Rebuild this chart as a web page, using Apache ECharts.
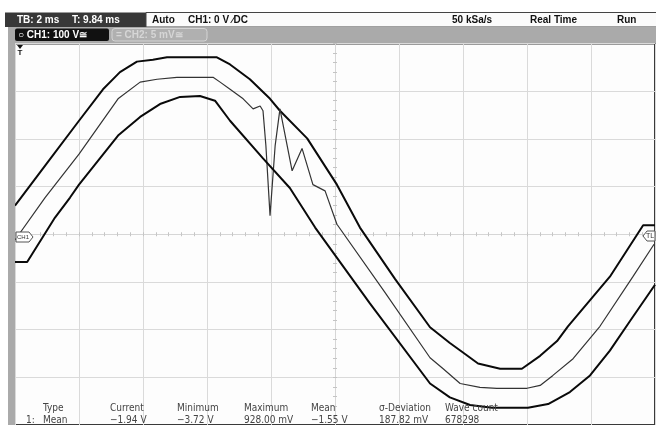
<!DOCTYPE html>
<html><head><meta charset="utf-8">
<script src="https://cdn.jsdelivr.net/npm/echarts@6/dist/echarts.min.js"></script>
<style>html,body{margin:0;padding:0;background:#fff;overflow:hidden}#c{width:656px;height:425px}</style>
</head><body><div id="c"></div>
<script>
// time in ms relative to screen centre, voltage in V (100 V/div)
const upperEnvelope = [[-10,60],[-9,149],[-8.0,238],[-7.25,304],[-6.72,340],[-6.19,362],[-5.69,366],[-5.25,371],[-3.69,371],[-3.28,356],[-2.66,325],[-2.03,284],[-1.72,259],[-0.87,201],[0.06,104],[0.78,14],[1.88,-94],[2.97,-195],[3.59,-228],[4.0,-248],[4.47,-271],[5.16,-282],[5.84,-282],[6.41,-255],[6.94,-224],[7.28,-193],[8.59,-89],[9.63,19],[10,19]];
const meanTrace = [[-10,-12],[-9.06,77],[-8.0,168],[-6.78,284],[-6.09,319],[-5.56,325],[-4.94,329],[-3.81,329],[-3.59,319],[-3.28,304],[-2.87,284],[-2.56,263],[-2.34,269],[-2.25,259],[-2.16,186],[-2.03,39],[-1.87,186],[-1.72,263],[-1.34,133],[-1.03,180],[-0.69,104],[-0.31,91],[0.06,21],[1.56,-122],[2.97,-259],[3.38,-282],[3.91,-313],[4.53,-321],[5.06,-323],[6.0,-323],[6.41,-317],[6.81,-296],[7.44,-261],[8.28,-193],[9.31,-89],[9.97,-21]];
const lowerEnvelope = [[-10,-58],[-9.62,-58],[-8.75,35],[-8.28,77],[-8.0,104],[-6.78,207],[-6.09,246],[-5.47,273],[-4.84,288],[-4.22,290],[-3.75,280],[-3.28,238],[-2.25,159],[-1.41,97],[-0.62,14],[1.09,-145],[2.97,-313],[3.59,-342],[4.22,-358],[4.91,-364],[6.03,-364],[6.66,-356],[7.34,-331],[7.97,-296],[8.59,-244],[9.22,-182],[10,-106]];

const statusLeft = ['TB: 2 ms', 'T: 9.84 ms'];
const statusRight = ['Auto', 'CH1: 0 V \u2215DC', '50 kSa/s', 'Real Time', 'Run'];
const channelLabels = ['\u25CB CH1: 100 V\u2245', '= CH2: 5 mV\u2245'];
const tableHeaders = ['Type', 'Current', 'Minimum', 'Maximum', 'Mean', '\u03C3-Deviation', 'Wave count'];
const tableRow = ['Mean', '\u22121.94 V', '\u22123.72 V', '928.00 mV', '\u22121.55 V', '187.82 mV', '678298'];
const tableRowIndex = '1:';

const chart = echarts.init(document.getElementById('c'), null, {renderer:'canvas'});
const BOLD = 'bold 10px "Liberation Sans", Arial, sans-serif';
const NARROW = '10px "Liberation Sans Narrow", "DejaVu Sans Condensed", "Liberation Sans", sans-serif';
function txt(x, y, s, font, fill, align) {
  return {type:'text', z:100, style:{x:x, y:y, text:s, font:font, fill:fill,
    align:align||'left', verticalAlign:'middle', textAlign:align||'left', textVerticalAlign:'middle'}};
}
const G = [];
G.push({type:'rect', z:90, shape:{x:5,y:12.5,width:141,height:14.5}, style:{fill:'#383838'}});
G.push({type:'rect', z:90, shape:{x:146,y:12.5,width:512,height:14.5}, style:{fill:'#fbfbfb', stroke:'#444', lineWidth:1}});
G.push({type:'rect', z:90, shape:{x:8,y:27,width:648,height:16}, style:{fill:'#aaaaaa'}});
G.push({type:'rect', z:90, shape:{x:8,y:43,width:7,height:382}, style:{fill:'#aaaaaa'}});
G.push({type:'rect', z:91, shape:{x:15,y:28.5,width:94,height:12.5,r:2}, style:{fill:'#111'}});
G.push({type:'rect', z:91, shape:{x:112,y:28.5,width:95,height:12.5,r:3}, style:{fill:'#b0b0b0', stroke:'#d4d4d4', lineWidth:1}});
const leftX = [17, 72];
statusLeft.forEach((s,i)=>G.push(txt(leftX[i], 20, s, BOLD, '#fff')));
const rightX = [152, 188, 452, 530, 617];
statusRight.forEach((s,i)=>G.push(txt(rightX[i], 20, s, BOLD, '#111')));
G.push(txt(18, 35, channelLabels[0], BOLD, '#fff'));
G.push(txt(116, 35, channelLabels[1], BOLD, '#d6d6d6'));
// trigger marker
G.push({type:'polygon', z:100, shape:{points:[[17,45],[23,45],[20,49]]}, style:{fill:'#111'}});
G.push(txt(20, 53, 'T', 'bold 8px "Liberation Sans", Arial, sans-serif', '#111', 'center'));
// ground marker left & TL marker right
G.push({type:'polygon', z:100, shape:{points:[[16,232],[29,232],[33,237],[29,242],[16,242]]}, style:{fill:'#fff', stroke:'#555', lineWidth:1}});
G.push(txt(23, 237, 'CH1', '6px "Liberation Sans", Arial, sans-serif', '#333', 'center'));
G.push({type:'polygon', z:100, shape:{points:[[643,236],[647,231],[655,231],[655,241],[647,241]]}, style:{fill:'#fff', stroke:'#555', lineWidth:1}});
G.push(txt(650, 236, 'TL', '7px "Liberation Sans", Arial, sans-serif', '#333', 'center'));
// measurement table
const colX = [43, 110, 177, 244, 311, 379, 445];
tableHeaders.forEach((s,i)=>G.push(txt(colX[i], 408, s, NARROW, '#444')));
G.push(txt(26, 420, tableRowIndex, NARROW, '#444'));
tableRow.forEach((s,i)=>G.push(txt(colX[i], 420, s, NARROW, '#444')));

const tickStyle = {color:'#c4c4c4', width:1};
function xAx(pos, split) {
  return {type:'value', min:-10, max:10, interval:2, position:pos,
    axisLine:{show:true, onZero:true, lineStyle:{color:'#d6d6d6'}},
    axisTick:{show:true, length:2, lineStyle:tickStyle},
    minorTick:{show:true, splitNumber:5, length:2, lineStyle:tickStyle},
    axisLabel:{show:false},
    splitLine:{show:split, lineStyle:{color:'#dadada', width:1}}};
}
function yAx(pos, split) {
  return {type:'value', min:-400, max:400, interval:100, position:pos,
    axisLine:{show:true, onZero:true, lineStyle:{color:'#d6d6d6'}},
    axisTick:{show:true, length:2, lineStyle:tickStyle},
    minorTick:{show:true, splitNumber:5, length:2, lineStyle:tickStyle},
    axisLabel:{show:false},
    splitLine:{show:split, lineStyle:{color:'#dadada', width:1}}};
}
function line(data, w, c) {
  return {type:'line', data:data, showSymbol:false, symbol:'none', xAxisIndex:0, yAxisIndex:0,
    lineStyle:{color:c, width:w}, z:5, silent:true};
}
chart.setOption({
  animation:false,
  backgroundColor:'#ffffff',
  grid:{left:15, top:43.5, width:640, height:386.5, show:true, backgroundColor:'#fdfdfd', borderColor:'#3a3a3a', borderWidth:2},
  xAxis:[xAx('bottom', true), xAx('top', false)],
  yAxis:[yAx('left', true), yAx('right', false)],
  series:[line(upperEnvelope, 2, '#0a0a0a'), line(meanTrace, 1.2, '#333'), line(lowerEnvelope, 2, '#0a0a0a')],
  graphic:G
});
</script></body></html>
